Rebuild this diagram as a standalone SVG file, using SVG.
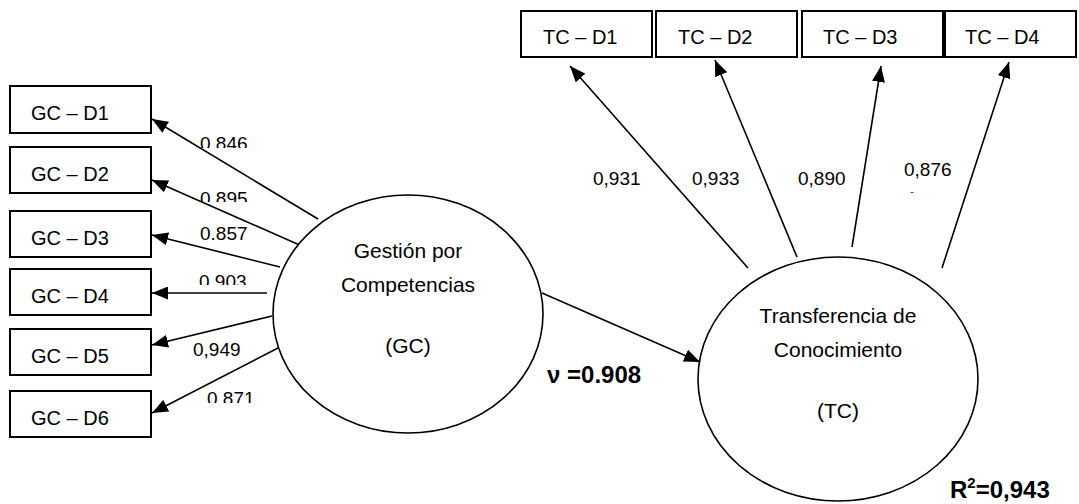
<svg xmlns="http://www.w3.org/2000/svg" width="1079" height="504" viewBox="0 0 1079 504">
<style>
.box{fill:#fff;stroke:#000;stroke-width:2}
.ell{fill:#fff;stroke:#000;stroke-width:1.6}
.t{font-family:"Liberation Sans",Arial,sans-serif;font-size:19px;fill:#000}
.bx{font-size:20px}
.c{text-anchor:middle;font-size:21px}
.b{font-family:"Liberation Sans",Arial,sans-serif;font-weight:bold;font-size:24px;fill:#000}
.ln{stroke:#000;stroke-width:1.6;fill:none;marker-end:url(#ah)}
</style>
<defs>
<marker id="ah" markerUnits="userSpaceOnUse" markerWidth="17" markerHeight="13" refX="16" refY="6.5" orient="auto">
<path d="M0,0 L16,6.5 L0,13 z" fill="#000"/>
</marker>
<clipPath id="c1"><rect x="190" y="120" width="70" height="28"/></clipPath>
<clipPath id="c2"><rect x="190" y="175" width="70" height="27"/></clipPath>
<clipPath id="c4"><rect x="190" y="260" width="70" height="25"/></clipPath>
<clipPath id="c6"><rect x="195" y="380" width="70" height="23"/></clipPath>
</defs>
<g id="connectors">
<line class="ln" x1="318" y1="219" x2="152" y2="119"/>
<line class="ln" x1="304" y1="247" x2="152" y2="180"/>
<line class="ln" x1="280" y1="267" x2="152" y2="235"/>
<line class="ln" x1="267" y1="293" x2="152" y2="293"/>
<line class="ln" x1="272" y1="316" x2="152" y2="345"/>
<line class="ln" x1="278" y1="348" x2="152" y2="413"/>
<line class="ln" x1="748" y1="268" x2="570" y2="66"/>
<line class="ln" x1="797" y1="257" x2="715" y2="60"/>
<line class="ln" x1="852" y1="247" x2="881" y2="66"/>
<line class="ln" x1="942" y1="268" x2="1009" y2="62"/>
<line class="ln" x1="542" y1="293" x2="700" y2="362"/>
</g>
<g id="labels">
<text class="t" x="200" y="150" clip-path="url(#c1)">0.846</text>
<text class="t" x="200" y="205" clip-path="url(#c2)">0.895</text>
<text class="t" x="200" y="240">0.857</text>
<text class="t" x="199" y="288" clip-path="url(#c4)">0.903</text>
<text class="t" x="193" y="356">0,949</text>
<text class="t" x="207" y="405" clip-path="url(#c6)">0.871</text>
<text class="t" x="593" y="185">0,931</text>
<text class="t" x="692" y="185">0,933</text>
<text class="t" x="798" y="185">0,890</text>
<text class="t" x="904" y="176">0,876</text>
<text class="t" x="910" y="196" style="font-size:12px;fill:#555">-</text>
<text class="b" x="547" y="383">ν =0.908</text>
<text class="b" x="950" y="498">R<tspan dy="-10" style="font-size:15px">2</tspan><tspan dy="10">=0,943</tspan></text>
</g>
<g id="gc-d1"><rect class="box" x="10" y="86" width="141" height="47"/><text class="t bx" x="31" y="120">GC – D1</text></g>
<g id="gc-d2"><rect class="box" x="10" y="147" width="141" height="46"/><text class="t bx" x="31" y="181">GC – D2</text></g>
<g id="gc-d3"><rect class="box" x="10" y="211" width="141" height="46"/><text class="t bx" x="31" y="245">GC – D3</text></g>
<g id="gc-d4"><rect class="box" x="10" y="269" width="141" height="46"/><text class="t bx" x="31" y="303">GC – D4</text></g>
<g id="gc-d5"><rect class="box" x="10" y="329" width="141" height="46"/><text class="t bx" x="31" y="363">GC – D5</text></g>
<g id="gc-d6"><rect class="box" x="10" y="391" width="141" height="46"/><text class="t bx" x="31" y="425">GC – D6</text></g>
<g id="tc-d1"><rect class="box" x="521" y="11" width="131" height="46"/><text class="t bx" x="543" y="44">TC – D1</text></g>
<g id="tc-d2"><rect class="box" x="656" y="11" width="141" height="46"/><text class="t bx" x="678" y="44">TC – D2</text></g>
<g id="tc-d3"><rect class="box" x="802" y="11" width="141" height="46"/><text class="t bx" x="823" y="44">TC – D3</text></g>
<g id="tc-d4"><rect class="box" x="945" y="11" width="131" height="46"/><text class="t bx" x="965" y="44">TC – D4</text></g>
<g id="gc">
<ellipse class="ell" cx="408" cy="314" rx="135" ry="119"/>
<text class="t c" x="408" y="258">Gestión por</text>
<text class="t c" x="408" y="292">Competencias</text>
<text class="t c" x="408" y="353">(GC)</text>
</g>
<g id="tc">
<ellipse class="ell" cx="838" cy="379" rx="140" ry="122"/>
<text class="t c" x="838" y="323">Transferencia de</text>
<text class="t c" x="838" y="357">Conocimiento</text>
<text class="t c" x="838" y="418">(TC)</text>
</g>
</svg>
